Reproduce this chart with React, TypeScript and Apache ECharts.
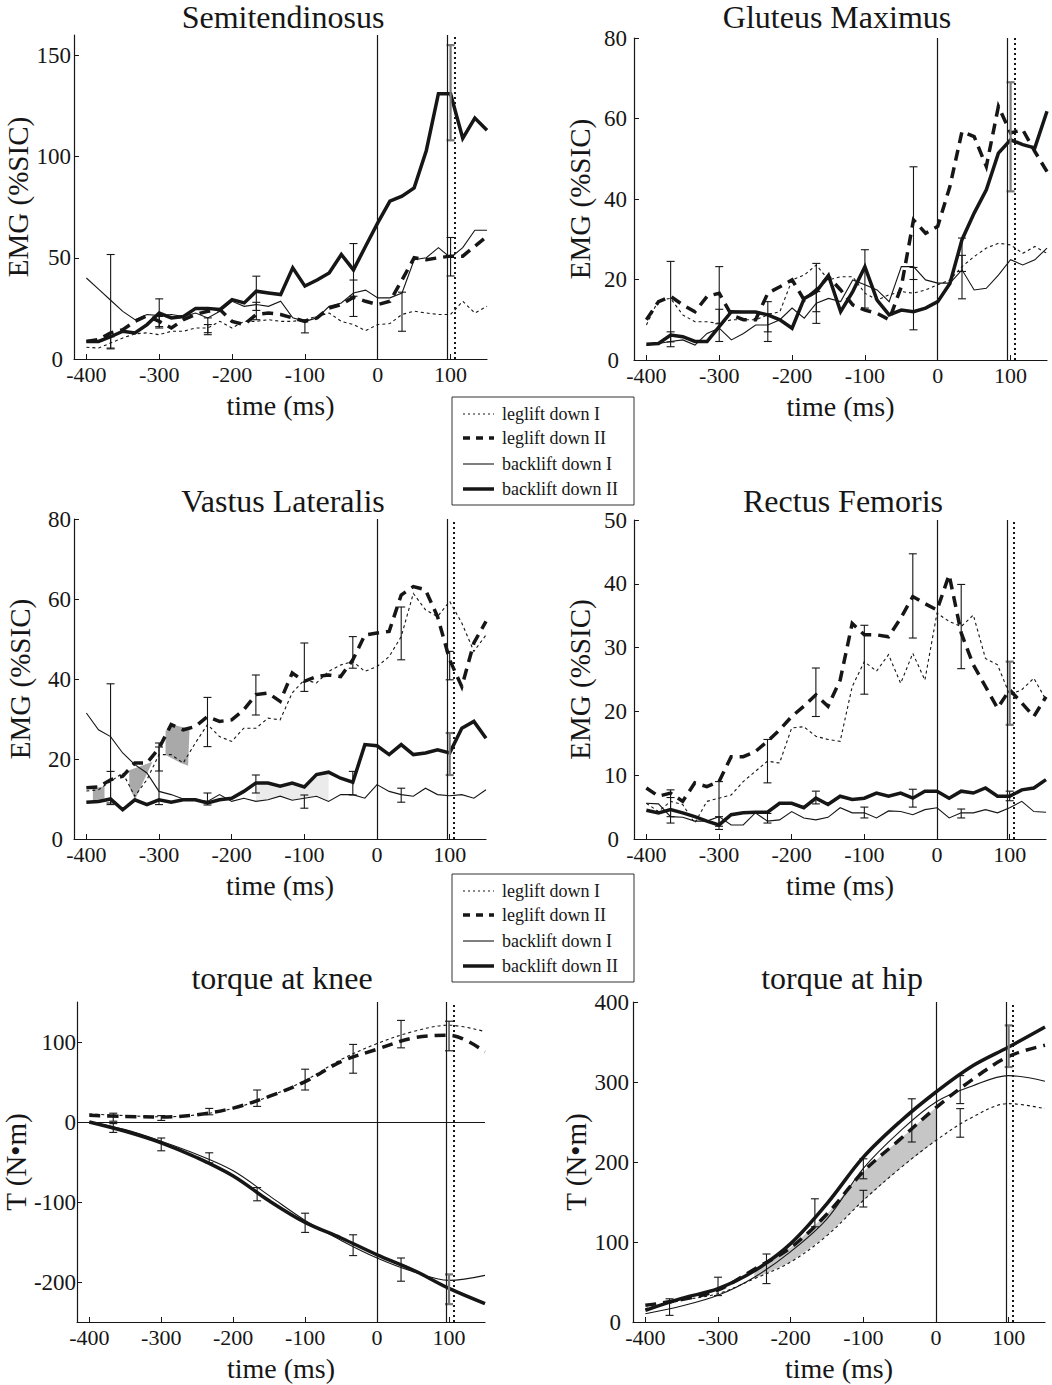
import React, { useEffect, useRef } from "react";
import * as echarts from "echarts";

// ---------- sample times ----------
const T = [-400, -383.3, -366.7, -350, -333.3, -316.7, -300, -283.3, -266.7, -250, -233.3, -216.7, -200, -183.3, -166.7, -150, -133.3, -116.7, -100, -83.3, -66.7, -50, -33.3, -16.7, 0, 16.7, 33.3, 50, 66.7, 83.3, 100, 116.7, 133.3, 150];
const TQ = [-400, -350, -300, -250, -200, -150, -100, -50, 0, 50, 100, 150];
const X_TICKS = [-400, -300, -200, -100, 0, 100];
const EVENT_LINES = [0, 96];
const EVENT_DOTTED = 106;

// ---------- Semitendinosus ----------
const legI_ST = [5.8, 5.4, 7.9, 10.4, 12.4, 12.9, 12, 13.7, 13.7, 15.3, 15.3, 18.6, 15.3, 18.6, 18.6, 19.4, 18.6, 18.6, 19.4, 21, 22.7, 18.6, 17, 14, 17, 17.5, 22, 23.6, 22.7, 22, 22, 28.5, 22.7, 26];
const legII_ST = [8.7, 9.6, 12.9, 14.5, 18.6, 21.4, 18.6, 15.3, 19.4, 22, 23.6, 24.4, 18.6, 17, 22, 22.7, 22, 20.3, 18.6, 20.3, 25.2, 26.9, 30.5, 28.5, 26.9, 28.5, 39, 50, 49, 50, 50.8, 50.8, 55.7, 60.6];
const backI_ST = [40, 34.5, 29, 23.5, 19.4, 22, 21.4, 22, 21, 22.7, 20.3, 23.6, 28.5, 26, 26.9, 26, 28.5, 20.3, 18.6, 20.3, 26, 27.7, 32.6, 34, 30.2, 30.2, 32.6, 49, 50, 55, 50, 55, 63.6, 63.6];
const backII_ST = [8.7, 8.7, 11, 13.7, 12.9, 17, 22.7, 20.3, 21, 25, 25, 24.4, 29.3, 27.7, 33.5, 32.6, 31.8, 45, 36, 39, 42.5, 51.6, 44, 55.7, 67.2, 78, 80.4, 84.5, 103, 131, 131, 109, 119, 113];
const ERR_ST = [[-366.7, 5.4, 51.6, 0], [-366.7, 5, 11, 0], [-300, 15.3, 29.7, 0], [-300, 16, 21, 0], [-233.3, 12, 20.3, 0], [-233.3, 13, 17, 0], [-166.7, 19.4, 40.9, 0], [-166.7, 24, 28, 0], [-100, 12.9, 19.4, 0], [-33.3, 21, 57, 0], [-33.3, 31, 39, 0], [33.3, 13.7, 33, 0], [100, 41, 60, 0], [100, 108, 155, 1]];

// ---------- Gluteus Maximus ----------
const legI_GM = [8.7, 14.9, 15.3, 11.2, 9.5, 9.5, 9.1, 10, 10, 10, 11.2, 12, 19.9, 21.1, 23.6, 19.9, 20.7, 20.7, 16.6, 14.9, 16.2, 17, 16.6, 17.4, 18.7, 19.9, 23.2, 25.7, 27.8, 29, 28.6, 26.5, 28.2, 26.5];
const legII_GM = [10, 14.5, 15.8, 13.7, 12, 15.8, 16.6, 11.2, 10, 10, 16.6, 18.2, 19.9, 14.9, 17.4, 20.7, 17.4, 13.7, 12.4, 11.6, 10, 18.2, 34.8, 31.5, 33.2, 43.1, 56.8, 55.5, 48.1, 63, 56.4, 57.2, 51.8, 46.8];
const backI_GM = [3.7, 4.1, 4.6, 5, 3.7, 6.6, 7.9, 5, 6.6, 8.7, 8.7, 10, 12.9, 10.4, 14.1, 15.3, 14.5, 19.9, 18.7, 17.4, 14.5, 23.2, 23.2, 19.9, 19.1, 19.1, 22.4, 17.4, 17.8, 21.1, 24.9, 23.6, 24.9, 27.8];
const backII_GM = [3.9, 4.1, 6.2, 5.8, 4.6, 4.6, 8.3, 12, 11.9, 11.9, 11.2, 10, 7.9, 15.3, 17, 21, 12, 17, 23.2, 14.9, 11.2, 12.4, 12, 12.9, 14.5, 19, 29.9, 36.5, 42.3, 51.4, 54.7, 53.5, 52.7, 61.8];
const ERR_GM = [[-366.7, 3.3, 24.5, 0], [-366.7, 4.5, 7, 0], [-300, 4.6, 23.2, 0], [-300, 9, 12.6, 0], [-233.3, 4.6, 14.5, 0], [-233.3, 7, 11.5, 0], [-166.7, 9.1, 24, 0], [-166.7, 12, 17, 0], [-100, 12.9, 27.4, 0], [-33.3, 7.5, 48, 0], [-33.3, 20, 23, 0], [33.3, 15.2, 30.3, 0], [33.3, 22, 26, 0], [100, 41.9, 69, 1]];

// ---------- Vastus Lateralis ----------
const legI_VL = [12, 12.3, 14.4, 16.5, 10.7, 14.8, 21.1, 21.1, 19, 24, 28.6, 25.6, 24.4, 27.7, 27.7, 30.2, 29.8, 36.5, 39.8, 39, 41.9, 43.5, 44.4, 41.9, 43.1, 45.6, 50.6, 61.4, 57.3, 55.6, 59.4, 54, 46.9, 51];
const legII_VL = [12.8, 13, 14.8, 15.7, 19, 19, 22.7, 28.6, 27.3, 28.1, 30.6, 29.4, 29.8, 32.3, 36.1, 36.5, 34.4, 41.5, 39.4, 40.6, 41, 40.6, 44.8, 51, 51.5, 51.9, 61, 63.1, 62.3, 55.6, 44.8, 38.1, 49, 54.4];
const backI_VL = [31.5, 27.3, 25.6, 21.5, 18.6, 16.5, 11.9, 11.1, 10, 9.8, 9.4, 11.1, 9.4, 10.2, 9.4, 9.8, 10.7, 9.7, 10.2, 10.7, 9.4, 11.1, 11.1, 10.2, 13.6, 11.9, 11.1, 10.7, 12.7, 11.1, 10.8, 11.1, 10.2, 12.3];
const backII_VL = [9.2, 9.4, 10, 7.3, 9.8, 8.6, 9.8, 9.2, 9.8, 9.8, 9, 9.8, 10.2, 11.9, 14, 14, 13.2, 14, 13, 16.1, 16.7, 15.2, 14.2, 23.6, 23.3, 21.1, 23.6, 21.1, 21.5, 22.3, 21.5, 27.7, 29.4, 25.2];
const ERR_VL = [[-366.7, 8.6, 38.8, 0], [-366.7, 9, 16.9, 0], [-300, 8.6, 24, 0], [-300, 17, 23, 0], [-233.3, 23.1, 35.4, 0], [-233.3, 8.5, 11.5, 0], [-166.7, 31, 41, 0], [-166.7, 11.5, 16, 0], [-100, 36.9, 49, 0], [-100, 7.7, 11, 0], [-33.3, 42.7, 50.6, 0], [-33.3, 11, 16.9, 0], [33.3, 44.8, 58, 0], [33.3, 9.2, 12.7, 0], [100, 39.8, 46.9, 0], [100, 16, 26.5, 1]];
// shaded patches (vertices in data units: time ms, EMG)
const PATCHES_VL = [
  [[-391, 12.6], [-375, 13.2], [-375, 10.2], [-391, 9.4]],
  [[-341, 17.2], [-309, 19.3], [-333, 9.8], [-341, 13]],
  [[-291, 27], [-283, 28.7], [-258, 27.5], [-260, 18.3], [-270, 19], [-291, 21]],
];
const SHADE_VL_BACK = [[14, 20]];

// ---------- Rectus Femoris ----------
const legI_RF = [5.6, 4.3, 5.9, 5.4, 2.5, 5.9, 6.4, 6.9, 9, 10.6, 12.2, 11.9, 17.4, 17.6, 16.1, 15.6, 15.3, 23.9, 27.8, 26.3, 28.9, 24.4, 29.1, 24.9, 35.4, 34.1, 33.3, 35.1, 28.3, 27.3, 22.6, 23.4, 25.2, 21.8];
const legII_RF = [8, 6.7, 7.2, 5.9, 8.8, 8.2, 9, 12.9, 12.9, 13.7, 15.3, 17.1, 19.2, 20.8, 22.6, 20.8, 24.9, 33.8, 32, 32, 31.7, 34.6, 38, 36.9, 35.9, 41.4, 32.3, 27.3, 23.9, 20.5, 23.4, 21.3, 19.2, 22.3];
const backI_RF = [5.6, 5.5, 3.5, 3.4, 2.8, 2.8, 3.5, 2.2, 2.2, 4.1, 2.8, 3, 4.3, 3.3, 3, 3.4, 4.9, 4.1, 4.1, 3.3, 4.4, 4.3, 3.8, 4.6, 4.9, 3.3, 4.1, 4.1, 4.6, 4.1, 4.9, 5.9, 4.3, 4.2];
const backII_RF = [4.5, 4.1, 4.6, 4.1, 3.5, 2.8, 2.2, 3.8, 4.1, 4.2, 4.2, 5.6, 5.6, 4.9, 6.4, 5.4, 6.7, 6.2, 6.4, 7.2, 6.7, 7.2, 6.4, 7.5, 7.5, 6.4, 7.5, 7.2, 8, 6.7, 6.7, 7.7, 8, 9.3];
const ERR_RF = [[-366.7, 2.5, 7.7, 0], [-366.7, 3.5, 6.5, 0], [-300, 1.5, 9, 0], [-300, 2, 3.5, 0], [-233.3, 8.8, 15.6, 0], [-233.3, 2.5, 4, 0], [-166.7, 19.2, 26.8, 0], [-166.7, 5.5, 7.5, 0], [-100, 22.7, 33.5, 0], [-100, 3.3, 5, 0], [-33.3, 31.5, 44.7, 0], [-33.3, 5, 7.8, 0], [33.3, 26.7, 39.9, 0], [33.3, 3.3, 4.7, 0], [100, 17.9, 27.8, 1], [100, 6, 7.5, 0]];

// ---------- torque at knee ----------
const legI_K = [10, 8, 6.5, 9, 17, 32, 52, 78, 98, 113, 121, 113];
const legII_K = [8.3, 7, 6.2, 9, 17.4, 32, 50.5, 75.4, 91, 105, 108.5, 87.8];
const backI_K = [0, -9.5, -24, -40.6, -61, -92, -123, -148, -170, -187, -198, -191.7];
const backII_K = [0, -11.6, -26, -44.7, -67.5, -98.5, -125.5, -145, -166, -185, -208, -227];
const ERR_K = [[-366.7, -13, -2, 0], [-366.7, 1, 11, 0], [-300, -36, -20, 0], [-300, 2, 8, 0], [-233.3, 9, 17, 0], [-233.3, -51, -38.5, 0], [-166.7, 19.5, 40, 0], [-166.7, -98.5, -82, 0], [-100, 40, 66, 0], [-100, -138, -114, 0], [-33.3, 61, 97, 0], [-33.3, -167, -141, 0], [33.3, 92.7, 127, 0], [33.3, -199, -170, 0], [100, 89, 126, 0], [100, -227.7, -190.5, 1]];

// ---------- torque at hip ----------
const legI_H = [16.7, 27, 35.4, 54, 75, 108, 152, 191.7, 227, 256, 273, 266.7];
const legII_H = [20.8, 28, 40, 66, 93, 135, 188, 228, 268, 303, 332, 346];
const backI_H = [10.4, 20, 33.3, 56, 88, 129, 192, 238, 275, 295, 308, 301];
const backII_H = [14.6, 29.5, 41.7, 64, 98, 148, 206, 250, 287.5, 320, 343.75, 368.75];
const ERR_H = [[-366.7, 8.3, 29, 0], [-300, 33, 56, 0], [-233.3, 48, 85, 0], [-166.7, 119, 154, 0], [-100, 143.75, 164.6, 0], [-100, 179, 204, 0], [-33.3, 225, 279, 0], [33.3, 231, 266.7, 0], [33.3, 273, 308, 0], [100, 318.75, 370.8, 1]];
const SHADE_H = [[3, 8]];

const LEGEND_LABELS = ["leglift down I", "leglift down II", "backlift down I", "backlift down II"];

const FONT = "'Liberation Serif', 'Times New Roman', serif";
const INK = "#161616";

const STYLES = [
  { width: 1.1, type: [3, 3] as any },
  { width: 3.5, type: [11, 7] as any },
  { width: 1.1, type: "solid" as any },
  { width: 3.5, type: "solid" as any },
];

const PANELS = [
  { title: "Semitendinosus", tx: 283, ty: 17, grid: { left: 74, top: 35, width: 413, height: 324 }, x: T, lines: [legI_ST, legII_ST, backI_ST, backII_ST], err: ERR_ST, yMin: 0, yMax: 160, yTicks: [0, 50, 100, 150], yName: "EMG (%SIC)", smooth: false, shades: [] as any[], patches: [] as number[][][], zeroLine: false, labelMargin: 3 },
  { title: "Gluteus Maximus", tx: 837, ty: 17, grid: { left: 634, top: 38, width: 413, height: 322 }, x: T, lines: [legI_GM, legII_GM, backI_GM, backII_GM], err: ERR_GM, yMin: 0, yMax: 80, yTicks: [0, 20, 40, 60, 80], yName: "EMG (%SIC)", smooth: false, shades: [], patches: [], zeroLine: false, labelMargin: 7 },
  { title: "Vastus Lateralis", tx: 283, ty: 501, grid: { left: 74, top: 519, width: 412, height: 320 }, x: T, lines: [legI_VL, legII_VL, backI_VL, backII_VL], err: ERR_VL, yMin: 0, yMax: 80, yTicks: [0, 20, 40, 60, 80], yName: "EMG (%SIC)", smooth: false, shades: [{ ranges: SHADE_VL_BACK, top: backII_VL, bot: backI_VL, fill: "#ebebeb" }], patches: PATCHES_VL, zeroLine: false, labelMargin: 3 },
  { title: "Rectus Femoris", tx: 843, ty: 501, grid: { left: 634, top: 520, width: 412, height: 319 }, x: T, lines: [legI_RF, legII_RF, backI_RF, backII_RF], err: ERR_RF, yMin: 0, yMax: 50, yTicks: [0, 10, 20, 30, 40, 50], yName: "EMG (%SIC)", smooth: false, shades: [], patches: [], zeroLine: false, labelMargin: 7 },
  { title: "torque at knee", tx: 282, ty: 978, grid: { left: 73, top: 1002, width: 412, height: 320 }, x: TQ, lines: [legI_K, legII_K, backI_K, backII_K], err: ERR_K, yMin: -250, yMax: 150, yTicks: [-200, -100, 0, 100], yName: "T (N•m)", smooth: true, shades: [], patches: [], zeroLine: true, labelMargin: 1 },
  { title: "torque at hip", tx: 842, ty: 978, grid: { left: 633, top: 1002, width: 412, height: 320 }, x: TQ, lines: [legI_H, legII_H, backI_H, backII_H], err: ERR_H, yMin: 0, yMax: 400, yTicks: [0, 100, 200, 300, 400], yName: "T (N•m)", smooth: true, shades: [{ ranges: SHADE_H, top: legII_H, bot: legI_H, fill: "#c6c6c6" }], patches: [], zeroLine: false, labelMargin: 4 },
];

const LEGEND_BOXES = [
  { x: 452, y: 397 },
  { x: 452, y: 874 },
];

function buildOption() {
  const grid: any[] = [];
  const xAxis: any[] = [];
  const yAxis: any[] = [];
  const series: any[] = [];
  const graphic: any[] = [];

  PANELS.forEach((p, i) => {
    grid.push({ ...p.grid, containLabel: false });
    xAxis.push({
      type: "value",
      gridIndex: i,
      min: -417,
      max: 150,
      name: "time (ms)",
      nameLocation: "middle",
      nameGap: 32,
      nameTextStyle: { fontFamily: FONT, fontSize: 28, color: INK },
      axisLine: { onZero: false, lineStyle: { color: INK, width: 1.2 } },
      axisTick: { inside: true, length: 5, customValues: X_TICKS, lineStyle: { color: INK } },
      axisLabel: { customValues: X_TICKS, fontFamily: FONT, fontSize: 22, color: INK, margin: 4 },
      splitLine: { show: false },
    });
    const bottomZero = p.yMin === 0;
    yAxis.push({
      type: "value",
      gridIndex: i,
      min: p.yMin,
      max: p.yMax,
      name: p.yName,
      nameLocation: "middle",
      nameGap: 40,
      nameTextStyle: { fontFamily: FONT, fontSize: 29, color: INK },
      axisLine: { onZero: false, lineStyle: { color: INK, width: 1.2 } },
      axisTick: { inside: true, length: 5, customValues: p.yTicks, lineStyle: { color: INK } },
      axisLabel: {
        customValues: p.yTicks,
        fontFamily: FONT,
        fontSize: 23,
        color: INK,
        margin: p.labelMargin,
        formatter: (v: number) => (bottomZero && v === p.yMin ? "{z|" + v + "}" : String(v)),
        rich: { z: { fontFamily: FONT, fontSize: 23, color: INK, padding: [0, 8, 0, 0] } },
      },
      splitLine: { show: false },
    });

    // shaded regions between two series
    p.shades.forEach((s: any) => {
      series.push({
        type: "custom",
        xAxisIndex: i,
        yAxisIndex: i,
        silent: true,
        z: 1,
        data: s.ranges.map((r: number[]) => [p.x[r[0]], s.top[r[0]], r[0], r[1]]),
        encode: { x: 0, y: 1 },
        renderItem: (_params: any, api: any) => {
          const a = api.value(2);
          const b = api.value(3);
          const pts: number[][] = [];
          for (let k = a; k <= b; k++) pts.push(api.coord([p.x[k], s.top[k]]));
          for (let k = b; k >= a; k--) pts.push(api.coord([p.x[k], s.bot[k]]));
          return { type: "polygon", shape: { points: pts }, style: { fill: s.fill, stroke: "none" } };
        },
      });
    });

    // explicit shaded patches
    if (p.patches.length) {
      series.push({
        type: "custom",
        xAxisIndex: i,
        yAxisIndex: i,
        silent: true,
        z: 1,
        data: p.patches.map((pts, idx) => [pts[0][0], pts[0][1], idx]),
        encode: { x: 0, y: 1 },
        renderItem: (_params: any, api: any) => {
          const poly = p.patches[api.value(2)].map((pt) => api.coord(pt));
          return { type: "polygon", shape: { points: poly }, style: { fill: "#a9a9a9", stroke: "none" } };
        },
      });
    }

    // lines
    p.lines.forEach((vals, k) => {
      const st = STYLES[k];
      const s: any = {
        type: "line",
        name: LEGEND_LABELS[k],
        xAxisIndex: i,
        yAxisIndex: i,
        data: p.x.map((xv, j) => [xv, vals[j]]),
        showSymbol: false,
        symbol: "none",
        smooth: p.smooth ? 0.35 : false,
        z: 3,
        lineStyle: { color: INK, width: st.width, type: st.type, cap: "butt", join: "miter" },
      };
      if (k === 0) {
        const ml: any[] = EVENT_LINES.map((v) => ({ xAxis: v, lineStyle: { type: "solid", width: 1.2, color: INK } }));
        ml.push({ xAxis: EVENT_DOTTED, lineStyle: { type: [2, 3], width: 2, color: INK } });
        if (p.zeroLine) ml.push({ yAxis: 0, lineStyle: { type: "solid", width: 1.2, color: INK } });
        s.markLine = { silent: true, symbol: ["none", "none"], label: { show: false }, animation: false, data: ml };
      }
      series.push(s);
    });

    // error bars
    series.push({
      type: "custom",
      xAxisIndex: i,
      yAxisIndex: i,
      silent: true,
      z: 4,
      data: p.err,
      encode: { x: 0, y: [1, 2] },
      renderItem: (_params: any, api: any) => {
        const xv = api.value(0);
        const lo = api.coord([xv, api.value(1)]);
        const hi = api.coord([xv, api.value(2)]);
        const gray = api.value(3) === 1;
        const style = { stroke: gray ? "#7a7a7a" : INK, lineWidth: gray ? 2.2 : 1.1 };
        const c = 4;
        return {
          type: "group",
          children: [
            { type: "line", shape: { x1: lo[0], y1: lo[1], x2: hi[0], y2: hi[1] }, style },
            { type: "line", shape: { x1: lo[0] - c, y1: lo[1], x2: lo[0] + c, y2: lo[1] }, style },
            { type: "line", shape: { x1: hi[0] - c, y1: hi[1], x2: hi[0] + c, y2: hi[1] }, style },
          ],
        };
      },
    });

    // title
    graphic.push({
      type: "text",
      x: p.tx,
      y: p.ty,
      style: { text: p.title, font: `32px ${FONT}`, fill: INK, align: "center", verticalAlign: "middle", textAlign: "center", textVerticalAlign: "middle" },
    });
  });

  // legend boxes
  const rowOffsets = [17, 41, 67, 92];
  const dashes = [[2, 3], [7, 6], null, null];
  const widths = [1.1, 3.5, 1.1, 3.5];
  LEGEND_BOXES.forEach((b) => {
    graphic.push({ type: "rect", shape: { x: b.x, y: b.y, width: 182, height: 108 }, style: { fill: "#fff", stroke: "#333", lineWidth: 1 }, z: 10 });
    LEGEND_LABELS.forEach((lab, k) => {
      const yy = b.y + rowOffsets[k];
      const st: any = { stroke: INK, lineWidth: widths[k] };
      if (dashes[k]) st.lineDash = dashes[k];
      graphic.push({ type: "line", shape: { x1: b.x + 11, y1: yy, x2: b.x + 42, y2: yy }, style: st, z: 11 });
      graphic.push({
        type: "text",
        x: b.x + 50,
        y: yy,
        z: 11,
        style: { text: lab, font: `18px ${FONT}`, fill: INK, align: "left", verticalAlign: "middle", textAlign: "left", textVerticalAlign: "middle" },
      });
    });
  });

  return {
    animation: false,
    backgroundColor: "#ffffff",
    grid,
    xAxis,
    yAxis,
    series,
    graphic,
  };
}

export default function App() {
  const ref = useRef<HTMLDivElement>(null);
  useEffect(() => {
    if (!ref.current) return;
    const chart = echarts.init(ref.current, undefined, { renderer: "svg" });
    chart.setOption(buildOption() as any);
    return () => chart.dispose();
  }, []);
  return <div ref={ref} style={{ position: "absolute", left: 0, top: 0, width: 1052, height: 1385, background: "#fff" }} />;
}
